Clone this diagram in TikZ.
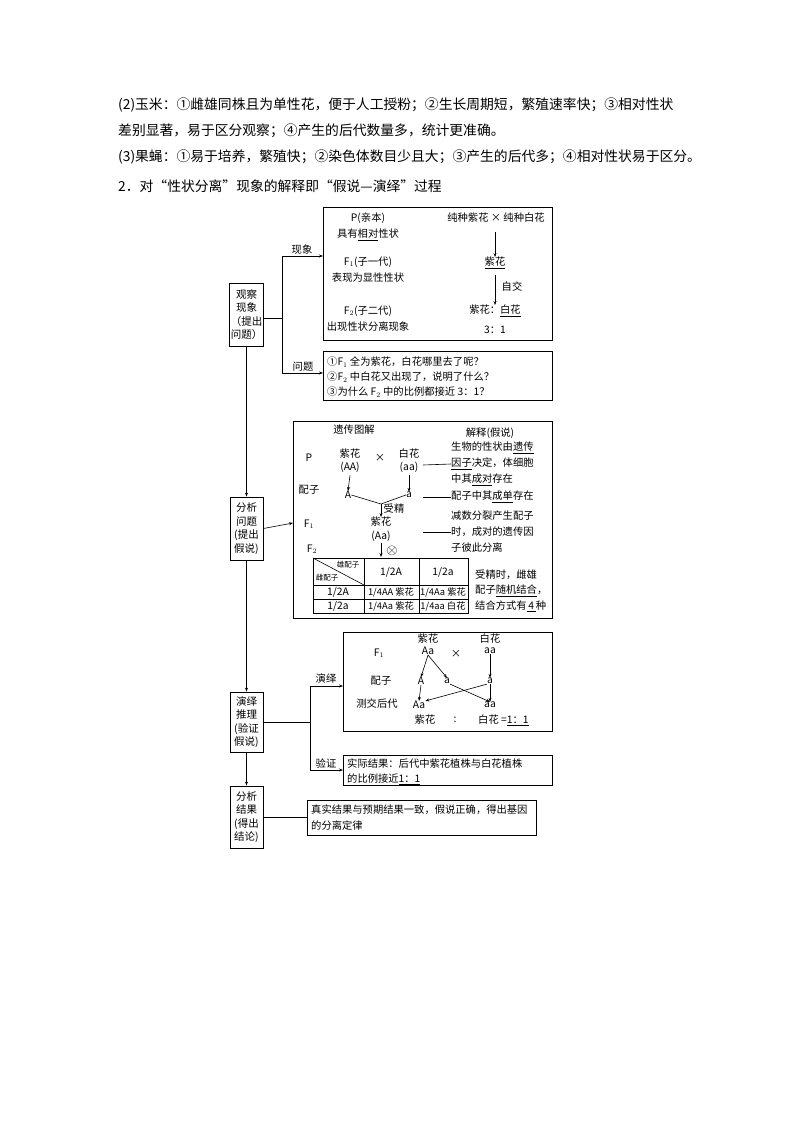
\documentclass[tikz,border=0pt]{standalone}
\usepackage{fontspec}
\setmainfont{Noto Sans CJK SC}
\usetikzlibrary{arrows.meta}
\begin{document}
\begin{tikzpicture}[x=1pt,y=-1pt,
  box/.style={draw,line width=0.8pt},
  stagebox/.style={draw,line width=0.8pt,minimum width=33pt,inner sep=1pt,align=center,font=\fontsize{10.5}{13.5}\selectfont},
  t/.style={font=\fontsize{10.3}{12}\selectfont,inner sep=0pt},
  tl/.style={t,anchor=west},
  para/.style={font=\fontsize{13.8}{15}\selectfont,anchor=west,inner sep=0pt},
  arr/.style={-{Stealth[length=4pt,width=3pt]},line width=0.6pt},
  ln/.style={line width=0.6pt}]
\useasboundingbox (0,0) rectangle (794,1123);
\node[para] (p1) at (118,105) {(2)玉米：①雌雄同株且为单性花，便于人工授粉；②生长周期短，繁殖速率快；③相对性状};
\node[para] (p2) at (118,131) {差别显著，易于区分观察；④产生的后代数量多，统计更准确。};
\node[para] (p3) at (118,157) {(3)果蝇：①易于培养，繁殖快；②染色体数目少且大；③产生的后代多；④相对性状易于区分。};
\node[para] (p4) at (118,186) {2．对“性状分离”现象的解释即“假说—演绎”过程};

% stage boxes
\node[stagebox,minimum height=63pt] (s1) at (246.5,314.5) {观察\\现象\\（提出\\问题）};
\node[stagebox,minimum height=63pt] (s2) at (246.5,528.5) {分析\\问题\\(提出\\假说)};
\node[stagebox,minimum height=60pt] (s3) at (246.5,722) {演绎\\推理\\(验证\\假说)};
\node[stagebox,minimum height=62pt] (s4) at (246.5,817) {分析\\结果\\(得出\\结论)};
\draw[arr] (s1.south) -- (s2.north);
\draw[arr] (s2.south) -- (s3.north);
\draw[arr] (s3.south) -- (s4.north);

% box1
\draw[box] (323,207) rectangle (552,340);
\coordinate (b1) at (323,256);
\coordinate (b2) at (323,373);
\coordinate (j1) at (282,318);
\draw[ln] (s1.east |- j1) -- (j1);
\draw[arr] (282,256) -- (b1);
\draw[arr] (282,373) -- (b2);
\draw[ln] (282,256) -- (282,373);
\node[t] (lx) at (302,255) [anchor=south] {现象};
\node[t] (lw) at (303,372) [anchor=south] {问题};
\node[t] (a1) at (368,218) {P(亲本)};
\node[t] (a2) at (368,235) {具有\underline{相对}性状};
\node[t] (a3) at (368,262) {F$_1$(子一代)};
\node[t] (a4) at (368,278) {表现为显性性状};
\node[t] (a5) at (368,311) {F$_2$(子二代)};
\node[t] (a6) at (368,327) {出现性状分离现象};
\node[t] (c1) at (496,218) {纯种紫花 × 纯种白花};
\node[t] (c2) at (495,263) {\underline{紫花}};
\node[t] (c3) at (495,311) {紫花：\underline{白花}};
\node[t] (c4) at (495,330) {3：1};
\draw[arr] (c1.south -| c2) ++(0,9) -- (c2.north);
\draw[arr] (c2.south) ++(0,6) -- (c3.north);
\node[t] (zj) at (512,287) {自交};
% box2
\draw[box] (323,351) rectangle (552,400);
\node[tl] (q1) at (327,362) {①F$_1$ 全为紫花，白花哪里去了呢？};
\node[tl] (q2) at (327,377) {②F$_2$ 中白花又出现了，说明了什么？};
\node[tl] (q3) at (327,392) {③为什么 F$_2$ 中的比例都接近 3：1？};

% box3
\draw[box] (293,421) rectangle (552,618);
\draw[arr] (s2.east) -- (293,523);
\node[t] (d0) at (354,430) {遗传图解};
\node[t] (d1) at (490,433) {解释(假说)};
\node[t] (dP) at (309,458) {P};
\node[t] (dz) at (350,454) {紫花};
\node[t] (dAA) at (350,467) {(AA)};
\node[t] (dx) at (380,458) {×};
\node[t] (dbh) at (409,454) {白花};
\node[t] (daa) at (409,467) {(aa)};
\node[t] (dpz) at (309,490) {配子};
\node[t] (dA) at (348,495) {A};
\node[t] (da) at (409,495) {a};
\draw[arr] (dAA.south) ++(0,3) -- (dA.north);
\draw[arr] (daa.south) ++(0,3) -- (da.north);
\coordinate (m) at (381,504);
\draw[ln] (dA.east) -- (m) -- (da.west);
\node[t] (dF1) at (309,524) {F$_1$};
\node[t] (dfz) at (381,522) {紫花};
\node[t] (dAa) at (381,536) {(Aa)};
\draw[arr] (m) -- (dfz.north);
\node[t] (dsj) at (394,509) {受精};
\node[t] (dF2) at (312,549) {F$_2$};
\draw[arr] (dAa.south) ++(0,2) -- (381,557);
\node[inner sep=0pt,font=\Large] (dot) at (392,551) {$\otimes$};
% table
\draw[ln] (313,558) rectangle (468,613);
\draw[ln] (313,585) -- (468,585) (313,599) -- (468,599);
\draw[ln] (364,558) -- (364,613) (419,558) -- (419,613);
\draw[ln] (313,558) -- (364,585);
\node[t,font=\fontsize{7.5}{9}\selectfont] (tx1) at (348,565) {雄配子};
\node[t,font=\fontsize{7.5}{9}\selectfont] (tx2) at (327,578) {雌配子};
\node[t] (t12A) at (391,572) {1/2A};
\node[t] (t12a) at (443,572) {1/2a};
\node[t] (r1) at (338,592) {1/2A};
\node[t] (r2) at (338,606) {1/2a};
\node[t,font=\fontsize{9.3}{11}\selectfont] (c11) at (391,592) {1/4AA 紫花};
\node[t,font=\fontsize{9.3}{11}\selectfont] (c12) at (443,592) {1/4Aa 紫花};
\node[t,font=\fontsize{9.3}{11}\selectfont] (c21) at (391,606) {1/4Aa 紫花};
\node[t,font=\fontsize{9.3}{11}\selectfont] (c22) at (443,606) {1/4aa 白花};
% explanations
\node[tl] (e1) at (451,448) {生物的性状由\underline{遗传}};
\node[tl] (e2) at (451,464) {\underline{因子}决定，体细胞};
\node[tl] (e3) at (451,480) {中其\underline{成对}存在};
\node[tl] (e4) at (451,497) {配子中其\underline{成单}存在};
\node[tl] (e5) at (451,516) {减数分裂产生配子};
\node[tl] (e6) at (451,532) {时，成对的遗传因};
\node[tl] (e7) at (451,548) {子彼此分离};
\node[tl] (e8) at (475,575) {受精时，雌雄};
\node[tl] (e9) at (475,591) {配子\underline{随机结合}，};
\node[tl] (e10) at (475,606) {结合方式有\underline{\,4\,}种};
\draw[ln] (423,465) -- (e2.west);
\draw[ln] (423,497) -- (e4.west);
\draw[ln] (423,532) -- (e6.west);

% box4
\draw[box] (343,632) rectangle (552,731);
\coordinate (j3) at (310,722);
\draw[ln] (s3.east) -- (j3);
\draw[ln] (310,686) -- (310,770);
\draw[arr] (310,686) -- (343,686);
\draw[arr] (310,770) -- (343,770);
\node[t] (ly) at (326,684) [anchor=south] {演绎};
\node[t] (lz) at (326,768) [anchor=south] {验证};
\node[t] (fz) at (428,639) {紫花};
\node[t] (fb) at (490,639) {白花};
\node[t] (fF1) at (379,653) {F$_1$};
\node[t] (fAa) at (428,651) {Aa};
\node[t] (fx) at (456,654) {×};
\node[t] (faa) at (490,651) {aa};
\node[t] (fpz) at (381,681) {配子};
\node[t] (gA) at (421,681) {A};
\node[t] (ga) at (447,681) {a};
\node[t] (gb) at (490,681) {a};
\node[t] (hcs) at (377,704) {测交后代};
\node[t] (hAa) at (419,705) {Aa};
\node[t] (haa) at (490,705) {aa};
\draw[arr] (fAa.south) -- (gA.north);
\draw[arr] (fAa.south) -- (ga.north);
\draw[arr] (faa.south) -- (gb.north);
\draw[arr] (gA.south) -- (hAa.north);
\draw[arr] (ga.south east) -- (haa.north);
\draw[arr] (gb.south) -- (haa.north);
\draw[arr] (gb.south west) -- (hAa.north east);
\node[t] (k1) at (425,720) {紫花};
\node[t] (k2) at (455,720) {:};
\node[tl] (k3) at (478,720) {白花 =\underline{1：1}};
% box5
\draw[box] (343,755) rectangle (552,785);
\node[tl] (v1) at (347,764) {实际结果：后代中紫花植株与白花植株};
\node[tl] (v2) at (347,779) {的比例接近\underline{1：1}};
% box6
\draw[box] (307,800) rectangle (536,835);
\draw[ln] (s4.east) -- (307,817);
\node[tl] (w1) at (311,810) {真实结果与预期结果一致，假说正确，得出基因};
\node[tl] (w2) at (311,826) {的分离定律};
\end{tikzpicture}
\end{document}
